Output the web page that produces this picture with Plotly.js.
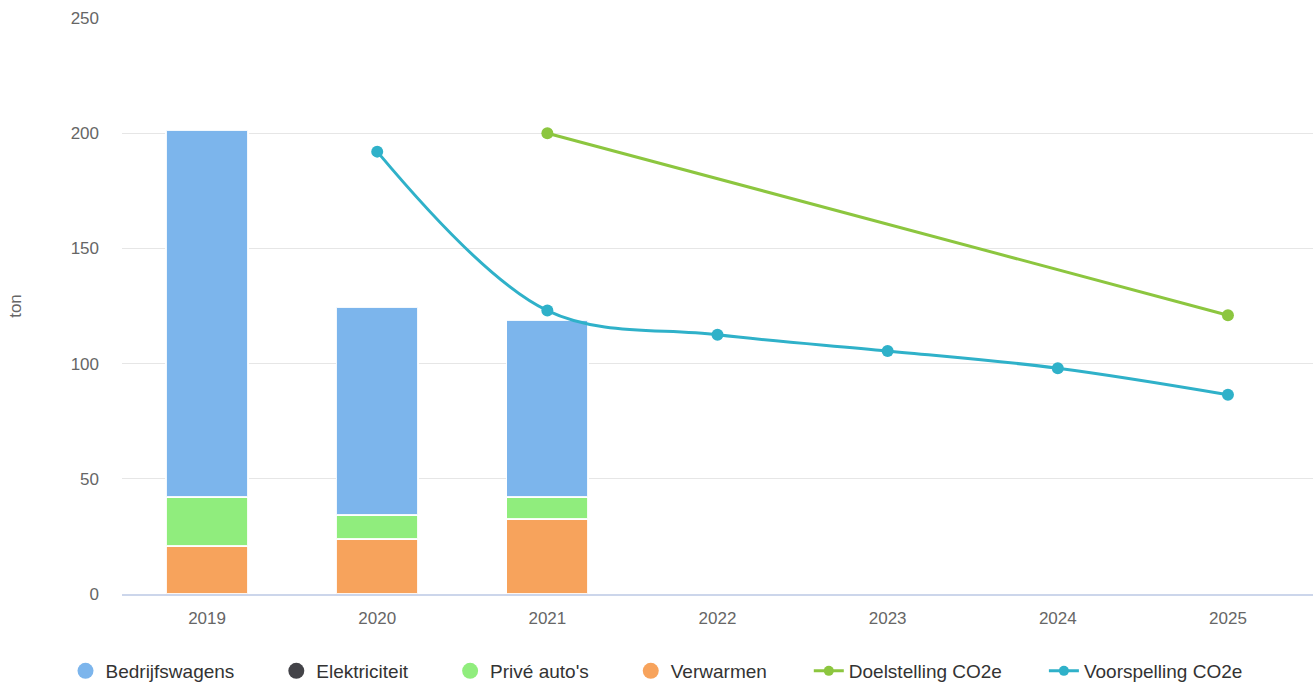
<!DOCTYPE html>
<html>
<head>
<meta charset="utf-8">
<script src="https://cdn.plot.ly/plotly-3.0.1.min.js"></script>
<style>html,body{margin:0;padding:0;background:#fff;}#chart{width:1313px;height:684px;}</style>
</head>
<body>
<div id="chart"></div>
<script>
const years = ['2019','2020','2021','2022','2023','2024','2025'];
const barYears = ['2019','2020','2021'];
const bedrijfswagens = [159.3, 90.3, 76.8];
const elektriciteit = [0, 0, 0];
const priveAutos = [21.3, 10.4, 9.5];
const verwarmen = [20.8, 23.9, 32.6];
const doelYears = ['2021','2025'];
const doelstelling = [200, 121];
const voorYears = ['2020','2021','2022','2023','2024','2025'];
const voorspelling = [192, 123, 112.5, 105.5, 98, 86.5];
const legendNames = ['Bedrijfswagens','Elektriciteit',"Privé auto's",'Verwarmen','Doelstelling CO2e','Voorspelling CO2e'];

const C = {blue:'#7cb5ec', black:'#434348', green:'#90ed7d', orange:'#f7a35c', doel:'#8cc63f', voor:'#2fb1c9'};
const barLine = {color:'rgba(255,255,255,0.9)', width:1.5};
const font = 'Liberation Sans, Arial, sans-serif';
const pad = '\u00A0\u00A0\u00A0\u00A0\u00A0\u00A0\u00A0';

const traces = [
  {type:'bar', x:barYears, y:verwarmen, name:'Verwarmen', marker:{color:C.orange, line:barLine}, showlegend:false, width:0.48},
  {type:'bar', x:barYears, y:priveAutos, name:"Privé auto's", marker:{color:C.green, line:barLine}, showlegend:false, width:0.48},
  {type:'bar', x:barYears, y:elektriciteit, name:'Elektriciteit', marker:{color:C.black, line:barLine}, showlegend:false, width:0.48},
  {type:'bar', x:barYears, y:bedrijfswagens, name:'Bedrijfswagens', marker:{color:C.blue, line:barLine}, showlegend:false, width:0.48},
  {type:'scatter', mode:'lines+markers', x:doelYears, y:doelstelling, name:'Doelstelling CO2e', line:{color:C.doel, width:3}, marker:{color:C.doel, size:12}, showlegend:false},
  {type:'scatter', mode:'lines+markers', x:voorYears, y:voorspelling, name:'Voorspelling CO2e', line:{color:C.voor, width:3, shape:'spline', smoothing:1}, marker:{color:C.voor, size:12}, showlegend:false},
  // legend entries
  {type:'scatter', mode:'markers', x:[null], y:[null], name:legendNames[0]+pad, marker:{color:C.blue, size:18, symbol:'circle'}},
  {type:'scatter', mode:'markers', x:[null], y:[null], name:legendNames[1]+pad, marker:{color:C.black, size:18, symbol:'circle'}},
  {type:'scatter', mode:'markers', x:[null], y:[null], name:legendNames[2]+pad, marker:{color:C.green, size:18, symbol:'circle'}},
  {type:'scatter', mode:'markers', x:[null], y:[null], name:legendNames[3]+pad, marker:{color:C.orange, size:18, symbol:'circle'}},
  {type:'scatter', mode:'lines+markers', x:[null], y:[null], name:legendNames[4]+pad, line:{color:C.doel, width:3}, marker:{color:C.doel, size:10}},
  {type:'scatter', mode:'lines+markers', x:[null], y:[null], name:legendNames[5], line:{color:C.voor, width:3}, marker:{color:C.voor, size:10}}
];

const layout = {
  width:1313, height:684,
  margin:{l:122, r:0, t:18, b:90},
  paper_bgcolor:'#fff', plot_bgcolor:'#fff',
  barmode:'stack',
  font:{family:font, size:17, color:'#333'},
  xaxis:{type:'category', categoryorder:'array', categoryarray:years, range:[-0.5,6.5],
    showgrid:false, showline:true, linecolor:'#ccd6eb', linewidth:1.5,
    tickfont:{family:font, size:17, color:'#666'}, ticks:'', ticklabelstandoff:8, fixedrange:true},
  yaxis:{range:[0,250], dtick:50, showgrid:true, gridcolor:'#e6e6e6', gridwidth:1,
    zeroline:false, showline:false, ticks:'', ticklen:0, ticklabelstandoff:22,
    tickfont:{family:font, size:17, color:'#666'},
    title:{text:'ton', font:{family:font, size:17, color:'#666'}, standoff:44}},
  legend:{orientation:'h', x:0.5, xanchor:'center', xref:'container', yref:'container', y:(684-671)/684, yanchor:'middle',
    font:{family:font, size:19, color:'#333'}, itemwidth:30, traceorder:'normal'},
  hovermode:false
};

Plotly.newPlot('chart', traces, layout, {displayModeBar:false, staticPlot:true});
</script>
</body>
</html>
